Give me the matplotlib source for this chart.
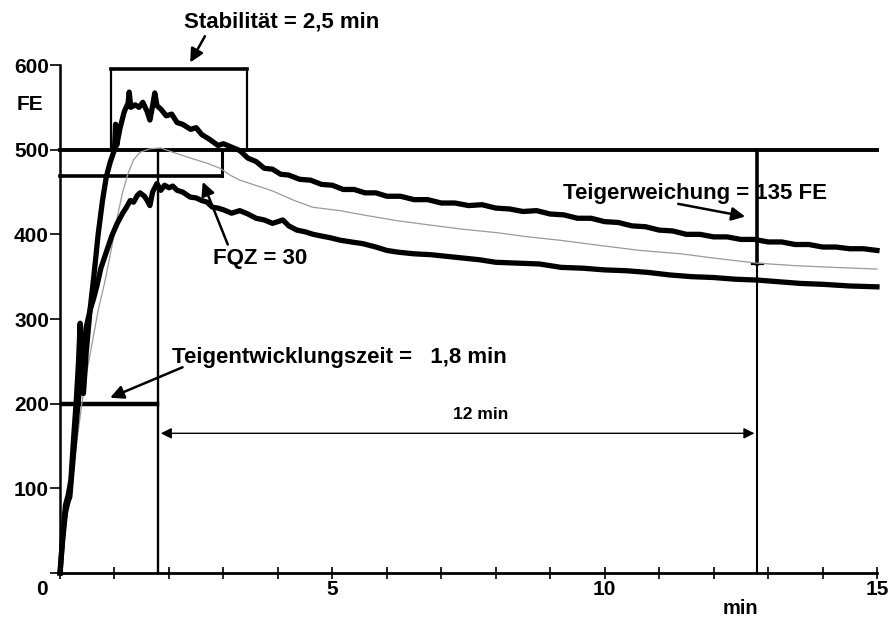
import matplotlib
matplotlib.use("Agg")
import matplotlib.pyplot as plt
import matplotlib.transforms as mtransforms

plt.rcParams['font.family'] = ['Liberation Sans', 'DejaVu Sans']
plt.rcParams['font.weight'] = 'bold'

# Farinogramm: obere und untere Hüllkurve, Mittelkurve (Zeit in min, Konsistenz in FE)
upper_t = [0, 0.05, 0.10, 0.15, 0.20, 0.25, 0.30, 0.34, 0.37, 0.40, 0.43, 0.48,
           0.55, 0.62, 0.70, 0.78, 0.85, 0.92, 1.00, 1.02, 1.04, 1.10, 1.18, 1.25,
           1.27, 1.30, 1.38, 1.45, 1.52, 1.60, 1.65, 1.70, 1.74, 1.78, 1.85, 1.95,
           2.05, 2.15, 2.25, 2.40, 2.50, 2.60, 2.75, 2.90, 3.00, 3.15, 3.30, 3.45,
           3.60, 3.75, 3.90, 4.05, 4.20, 4.40, 4.60, 4.80, 5.00, 5.20, 5.40, 5.60,
           5.80, 6.00, 6.25, 6.50, 6.75, 7.00, 7.25, 7.50, 7.75, 8.00, 8.25, 8.50,
           8.75, 9.00, 9.25, 9.50, 9.75, 10.00, 10.25, 10.50, 10.75, 11.00, 11.25,
           11.50, 11.75, 12.00, 12.25, 12.50, 12.75, 13.00, 13.25, 13.50, 13.75,
           14.00, 14.25, 14.50, 14.75, 15.00]
upper_fe = [0, 45, 80, 92, 110, 160, 205, 250, 295, 230, 212, 260,
            310, 350, 400, 440, 468, 485, 500, 530, 505, 525, 545, 555,
            568, 550, 553, 550, 556, 545, 535, 552, 567, 552, 548, 540,
            542, 532, 530, 524, 526, 518, 512, 505, 507, 503, 499, 490,
            486, 478, 477, 471, 470, 465, 464, 459, 458, 453, 453, 449,
            449, 445, 445, 441, 441, 437, 437, 434, 435, 431, 430, 427,
            428, 424, 423, 419, 419, 415, 414, 410, 409, 405, 404,
            400, 400, 397, 397, 394, 394, 391, 391, 388, 388,
            385, 385, 383, 383, 381]

lower_t = [0, 0.05, 0.10, 0.15, 0.18, 0.22, 0.28, 0.33, 0.40, 0.48, 0.55, 0.62,
           0.68, 0.75, 0.86, 0.95, 1.05, 1.15, 1.22, 1.29, 1.35, 1.42, 1.47, 1.55,
           1.60, 1.65, 1.70, 1.78, 1.85, 1.92, 2.00, 2.07, 2.15, 2.25, 2.39, 2.50,
           2.60, 2.70, 2.80, 2.90, 3.00, 3.15, 3.30, 3.45, 3.60, 3.75, 3.90, 4.00,
           4.09, 4.20, 4.35, 4.50, 4.65, 4.80, 4.96, 5.15, 5.35, 5.56, 5.80, 6.00,
           6.20, 6.50, 6.80, 7.10, 7.40, 7.70, 8.00, 8.40, 8.80, 9.20, 9.60, 10.00,
           10.40, 10.80, 11.20, 11.60, 12.00, 12.40, 12.80, 13.20, 13.60, 14.00,
           14.50, 15.00]
lower_fe = [0, 40, 72, 85, 90, 120, 165, 200, 245, 290, 310, 325,
            340, 360, 381, 398, 413, 425, 432, 440, 438, 446, 449, 445,
            440, 434, 450, 460, 452, 458, 455, 457, 452, 450, 444, 443,
            440, 438, 432, 431, 429, 425, 428, 424, 419, 417, 413, 415,
            417, 410, 405, 403, 400, 398, 396, 393, 391, 389, 385, 381,
            379, 377, 376, 374, 372, 370, 367, 366, 365, 361, 360, 358,
            357, 355, 352, 350, 349, 347, 346, 344, 342, 341,
            339, 338]

mid_t = [0, 0.10, 0.20, 0.30, 0.40, 0.50, 0.60, 0.70, 0.83, 0.95, 1.05, 1.15,
         1.25, 1.35, 1.47, 1.65, 1.85, 2.07, 2.40, 2.70, 2.94, 3.12, 3.30, 3.73,
         3.91, 4.30, 4.64, 5.14, 5.56, 6.20, 6.79, 7.40, 8.02, 8.60, 9.18, 9.90,
         10.65, 11.40, 12.00, 12.80, 13.50, 14.20, 15.00]
mid_fe = [0, 55, 95, 150, 200, 240, 275, 310, 346, 385, 420, 450,
          472, 488, 497, 501, 502, 497, 490, 484, 478, 470, 464, 455,
          451, 440, 432, 428, 423, 416, 411, 406, 402, 397, 393, 387,
          381, 377, 372, 366, 363, 361, 359]

# Kennwerte
fe_line = 500
fqz_level = 469
fqz_end = 2.97
dev_time = 1.8
dev_bar = 200
stab_start, stab_end, stab_top = 0.93, 3.43, 595
soft_time = 12.8
softening = 135

fig = plt.figure(figsize=(8.88, 6.18), dpi=100)
ax = fig.add_axes([0.0676, 0.0728, 0.9200, 0.8220])

ax.plot(mid_t, mid_fe, color='#9a9a9a', lw=0.9, zorder=3, clip_on=False)
ax.plot(upper_t, upper_fe, color='black', lw=3.8, zorder=4, clip_on=False,
        solid_joinstyle='round')
ax.plot(lower_t, lower_fe, color='black', lw=3.8, zorder=4, clip_on=False,
        solid_joinstyle='round')

# 500-FE-Linie und FQZ-Kasten
ax.plot([0, 15], [fe_line, fe_line], color='black', lw=2.8, clip_on=False)
ax.plot([0, fqz_end], [fqz_level, fqz_level], color='black', lw=2.6, clip_on=False)
ax.plot([fqz_end, fqz_end], [fqz_level, fe_line], color='black', lw=2.2)

# Stabilitätskasten
ax.plot([stab_start, stab_end], [stab_top, stab_top], color='black', lw=2.6, clip_on=False)
ax.plot([stab_start, stab_start], [fe_line, stab_top], color='black', lw=1.6)
ax.plot([stab_end, stab_end], [fe_line, stab_top], color='black', lw=1.6)

# Teigentwicklungszeit
ax.plot([0, dev_time - 0.02], [dev_bar, dev_bar], color='black', lw=3.2)
ax.plot([dev_time, dev_time], [0, fe_line], color='black', lw=1.7)

# Teigerweichung
ax.plot([soft_time, soft_time], [fe_line - softening, fe_line], color='black', lw=2.6)
ax.plot([soft_time, soft_time], [0, fe_line - softening], color='black', lw=1.5)
ax.plot([soft_time - 0.1, soft_time + 0.1], [fe_line - softening] * 2, color='black', lw=1.6)

ax.annotate('', xy=(dev_time + 0.05, 165), xytext=(soft_time - 0.05, 165),
            arrowprops=dict(arrowstyle='<|-|>', lw=1.0, color='black',
                            mutation_scale=16, shrinkA=0, shrinkB=0))
ax.text(7.73, 178, '12 min', fontsize=12.5, ha='center', va='bottom')

arrow = dict(arrowstyle='-|>', lw=1.8, color='black', mutation_scale=20,
             shrinkA=0, shrinkB=0)
ax.annotate('Stabilität = 2,5 min', xy=(2.39, 603), xytext=(4.06, 651),
            fontsize=16, ha='center', va='center', annotation_clip=False)
ax.annotate('', xy=(2.39, 603), xytext=(2.66, 634), arrowprops=arrow,
            annotation_clip=False)

ax.text(3.67, 372, 'FQZ = 30', fontsize=16, ha='center', va='center')
ax.annotate('', xy=(2.62, 462), xytext=(3.08, 388), arrowprops=arrow)

ax.text(2.06, 255, 'Teigentwicklungszeit =   1,8 min', fontsize=16,
        ha='left', va='center')
ax.annotate('', xy=(0.92, 207), xytext=(2.25, 243), arrowprops=arrow)

ax.text(9.23, 448, 'Teigerweichung = 135 FE', fontsize=16, ha='left', va='center')
ax.annotate('', xy=(12.58, 421), xytext=(11.35, 436), arrowprops=arrow)

# Achsen
ax.set_xlim(0, 15)
ax.set_ylim(0, 600)
for side in ['top', 'right']:
    ax.spines[side].set_visible(False)
ax.spines['bottom'].set_linewidth(2.0)
ax.spines['left'].set_linewidth(1.8)
ax.spines['left'].set_bounds(0, 600)

ax.set_xticks(range(0, 16))
ax.set_xticklabels(['0', '', '', '', '', '5', '', '', '', '', '10', '', '', '', '', '15'],
                   fontsize=15)
ax.tick_params(axis='x', direction='inout', length=8, width=1.2, pad=1)
ax.set_yticks(range(0, 700, 100))
ax.set_yticklabels(['', '100', '200', '300', '400', '500', '600'], fontsize=15)
ax.tick_params(axis='y', direction='out', length=7, width=1.2, pad=1)

# "0" etwas nach links versetzt
lbl0 = ax.get_xticklabels()[0]
lbl0.set_transform(lbl0.get_transform() +
                   mtransforms.ScaledTranslation(-0.18, 0, fig.dpi_scale_trans))

ax.text(-0.55, 553, 'FE', fontsize=15, ha='center', va='center', clip_on=False)
ax.text(12.5, -42, 'min', fontsize=14.5, ha='center', va='center', clip_on=False)

fig.savefig('out.png', dpi=100, facecolor='white')
